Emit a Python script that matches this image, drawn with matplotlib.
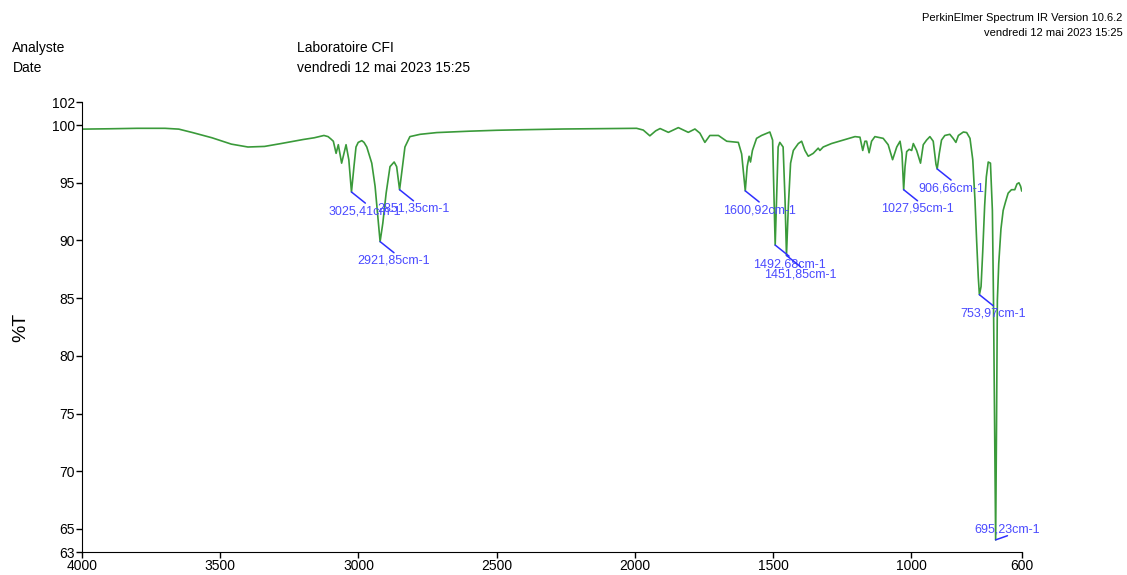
import numpy as np
import matplotlib.pyplot as plt

plt.rcParams['font.family'] = ['Liberation Sans', 'DejaVu Sans']

# IR spectrum, wavenumber (cm-1) vs transmittance (%T)
wavenumber = [
    4000, 3900, 3800, 3700, 3650, 3600, 3530, 3460, 3400, 3340, 3280, 3200,
    3160, 3125, 3110, 3100, 3091, 3081, 3073, 3061, 3045, 3035, 3025.41, 3016,
    3009, 3001, 2988, 2980, 2970, 2952, 2940, 2928, 2921.85, 2912, 2900, 2886,
    2871, 2862, 2851.35, 2844, 2832, 2814, 2777, 2717, 2600, 2500, 2400, 2260,
    2100, 1994, 1970, 1946, 1925, 1909, 1879, 1843, 1807, 1783, 1765, 1747,
    1729, 1698, 1668, 1626, 1614, 1608, 1600.92, 1594, 1587, 1582, 1575, 1560,
    1542, 1512, 1502, 1496, 1492.68, 1487, 1482, 1476, 1464, 1457, 1451.85,
    1445, 1437, 1427, 1409, 1397, 1385, 1373, 1355, 1337, 1331, 1319, 1289,
    1246, 1204, 1186, 1176, 1168, 1162, 1153, 1144, 1132, 1102, 1084, 1068,
    1053, 1041, 1034, 1027.95, 1023, 1017, 1008, 999, 993, 981, 967, 957, 945,
    933, 921, 911, 906.66, 899, 891, 879, 861, 849, 839, 830, 812, 800, 788,
    778, 770, 764, 758, 753.97, 748, 742, 735, 729, 722, 714, 707, 703, 699, 695.23, 692,
    689, 684, 676, 668, 660, 650, 638, 626, 618, 611, 605, 601,
]
transmittance = [
    99.65, 99.68, 99.72, 99.72, 99.65, 99.35, 98.9, 98.35, 98.1, 98.15, 98.4, 98.75,
    98.9, 99.1, 99.0, 98.8, 98.6, 97.55, 98.3, 96.7, 98.3, 97.0, 94.2, 96.5,
    98.1, 98.5, 98.65, 98.5, 98.1, 96.7, 94.7, 91.5, 89.9, 91.5, 94.1, 96.4,
    96.8, 96.4, 94.4, 95.8, 98.1, 99.0, 99.2, 99.35, 99.47, 99.55, 99.6, 99.66,
    99.7, 99.72, 99.57, 99.07, 99.5, 99.7, 99.37, 99.78, 99.37, 99.66, 99.3, 98.5,
    99.1, 99.1, 98.6, 98.5, 97.5, 96.0, 94.3, 96.4, 97.3, 96.8, 97.8, 98.85,
    99.1, 99.4, 98.7, 92.6, 89.6, 94.1, 98.1, 98.5, 98.1, 93.5, 88.7,
    93.0, 96.7, 97.8, 98.4, 98.6, 97.8, 97.3, 97.55, 98.0, 97.8, 98.1, 98.4,
    98.7, 99.0, 98.95, 97.8, 98.6, 98.6, 97.6, 98.6, 99.0, 98.85, 98.3, 97.0,
    98.1, 98.6, 97.55, 94.4, 96.4, 97.7, 97.9, 97.8, 98.4, 97.8, 96.7, 98.3, 98.7,
    99.0, 98.6, 96.6, 96.2, 97.55, 98.7, 99.1, 99.2, 98.85, 98.5, 99.1, 99.4, 99.35, 98.85,
    97.0, 93.5, 90.0, 86.8, 85.3, 86.0, 89.0, 93.0, 95.5, 96.8, 96.7, 92.6, 84.8, 74.0, 64.05, 74.0,
    84.8, 88.0, 91.0, 92.6, 93.3, 94.1, 94.4, 94.4, 94.9, 95.0, 94.7, 94.3,
]

# labelled peaks
peak_wn = [3025.41, 2921.85, 2851.35, 1600.92, 1492.68, 1451.85, 1027.95, 906.66, 753.97, 695.23]
peak_t = [94.2, 89.9, 94.4, 94.3, 89.6, 88.7, 94.4, 96.2, 85.3, 64.05]

yticks = [102, 100, 95, 90, 85, 80, 75, 70, 65, 63]
xticks = [4000, 3500, 3000, 2500, 2000, 1500, 1000, 600]

fig = plt.figure(figsize=(11.27, 5.75), dpi=100)
ax = fig.add_axes([0.0728, 0.04, 0.834, 0.7826])

ax.plot(wavenumber, transmittance, color='#3a9a3a', lw=1.2)

for wn, t in zip(peak_wn, peak_t):
    label = f'{wn:.2f}'.replace('.', ',') + 'cm-1'
    if wn < 700:
        line_end, text_pos, va = (8.5, 3), (8, 3.5), 'bottom'
    else:
        line_end, text_pos, va = (10, -8), (10, -9.5), 'top'
    ax.annotate('', xy=(wn, t), xytext=line_end, textcoords='offset points',
                arrowprops=dict(arrowstyle='-', color='#2f2fff', lw=1.1,
                                shrinkA=0, shrinkB=0))
    ax.annotate(label, xy=(wn, t), xytext=text_pos, textcoords='offset points',
                ha='center', va=va, fontsize=9, color='#4a4aff')

ax.set_xlim(4000, 600)
ax.set_ylim(63, 102)
ax.set_xticks(xticks)
ax.set_yticks(yticks)
ax.tick_params(direction='out', length=4, width=1, labelsize=10, pad=1)
for side in ['top', 'right']:
    ax.spines[side].set_visible(False)
ax.set_ylabel('%T', fontsize=14, labelpad=16)

fig.text(0.011, 0.916, 'Analyste', fontsize=10, va='center')
fig.text(0.011, 0.881, 'Date', fontsize=10, va='center')
fig.text(0.2635, 0.916, 'Laboratoire CFI', fontsize=10, va='center')
fig.text(0.2635, 0.881, 'vendredi 12 mai 2023 15:25', fontsize=10, va='center')
fig.text(0.996, 0.969, 'PerkinElmer Spectrum IR Version 10.6.2', fontsize=8, ha='right', va='center')
fig.text(0.996, 0.942, 'vendredi 12 mai 2023 15:25', fontsize=8, ha='right', va='center')

fig.savefig('out.png', dpi=100)
